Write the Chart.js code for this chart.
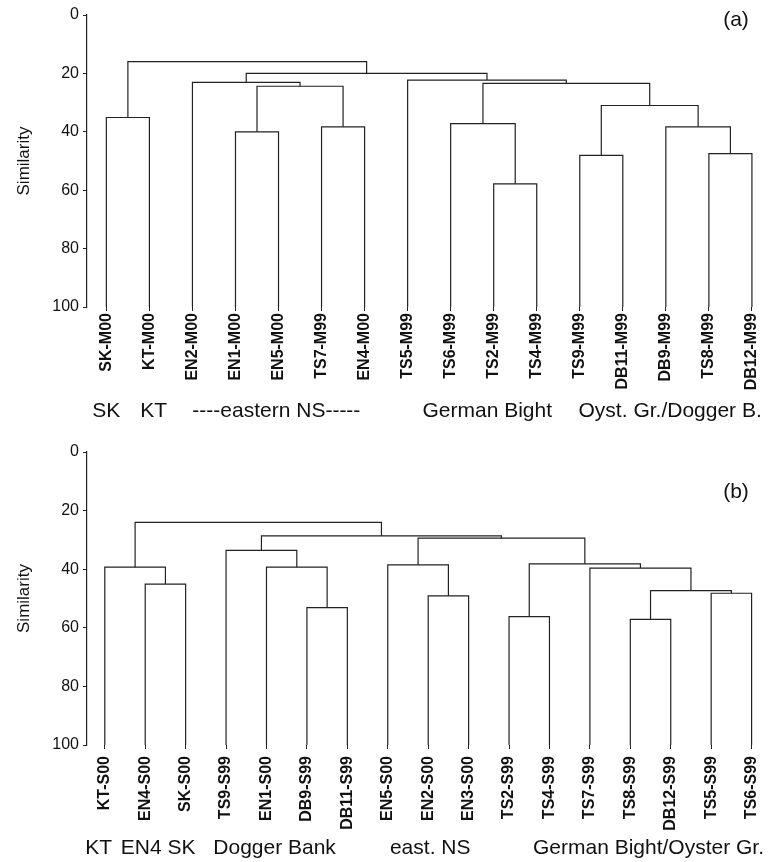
<!DOCTYPE html>
<html>
<head>
<meta charset="utf-8">
<script src="https://cdn.jsdelivr.net/npm/chart.js@4"></script>
<style>
    body { margin: 0; background: #fff; }
    canvas { display: block; }
</style>
</head>
<body>
<canvas id="panelA" width="778" height="431"></canvas>
<canvas id="panelB" width="778" height="431"></canvas>
<script>
// (a) leaves, left to right
const leavesA = ["SK-M00", "KT-M00", "EN2-M00", "EN1-M00", "EN5-M00", "TS7-M99", "EN4-M00", "TS5-M99",
    "TS6-M99", "TS2-M99", "TS4-M99", "TS9-M99", "DB11-M99", "DB9-M99", "TS8-M99", "DB12-M99"];
// merges: [left, right, similarity], index >= leaves.length means an earlier merge
const linkA = [
    [9, 10, 57.8], [14, 15, 47.5], [11, 12, 48.1], [3, 4, 40.0], [5, 6, 38.3],
    [13, 17, 38.3], [8, 16, 37.2], [0, 1, 35.1], [18, 21, 31.0], [19, 20, 24.4],
    [22, 24, 23.4], [2, 25, 23.1], [7, 26, 22.3], [27, 28, 20.0], [23, 29, 16.0],
];
const groupsA = ["SK", "KT", "----eastern NS-----", "German Bight", "Oyst. Gr./Dogger B."];
const groupAtA = [0, 1.1, 3.95, 8.85, 13.1];

// (b)
const leavesB = ["KT-S00", "EN4-S00", "SK-S00", "TS9-S99", "EN1-S00", "DB9-S99", "DB11-S99", "EN5-S00",
    "EN2-S00", "EN3-S00", "TS2-S99", "TS4-S99", "TS7-S99", "TS8-S99", "DB12-S99", "TS5-S99", "TS6-S99"];
const linkB = [
    [13, 14, 57.1], [10, 11, 56.2], [5, 6, 53.1], [8, 9, 49.1], [15, 16, 48.2],
    [17, 21, 47.3], [1, 2, 45.1], [12, 22, 39.6], [0, 23, 39.3], [4, 19, 39.3],
    [7, 20, 38.5], [18, 24, 38.2], [3, 26, 33.6], [27, 28, 29.4], [29, 30, 28.6],
    [25, 31, 24.0],
];
const groupsB = ["KT", "EN4", "SK", "Dogger Bank", "east. NS", "German Bight/Oyster Gr."];
const groupAtB = [-0.15, 0.9, 1.9, 4.2, 8.05, 13.45];

const simTicks = [0, 20, 40, 60, 80, 100];

// turn the merge list into one U-shaped line per merge
function dendroSets(n, links) {
    const pos = [];
    const hgt = [];
    for (let i = 0; i < n; i++) {
        pos.push(i);
        hgt.push(100);
    }
    return links.map(([a, b, h]) => {
        const set = {
            data: [
                { x: pos[a], y: hgt[a] },
                { x: pos[a], y: h },
                { x: pos[b], y: h },
                { x: pos[b], y: hgt[b] },
            ],
            showLine: true,
            borderColor: "#222",
            borderWidth: 1.2,
            pointRadius: 0,
            tension: 0,
            fill: false,
            clip: 6,
        };
        pos.push((pos[a] + pos[b]) / 2);
        hgt.push(h);
        return set;
    });
}

function makePanel(id, leaves, links, groups, groupAt, tag, lay) {
    const notes = {
        id: "notes",
        afterDraw(chart) {
            const ctx = chart.ctx;
            const x = chart.scales.x;
            ctx.save();
            ctx.fillStyle = "#111";
            ctx.textBaseline = "middle";
            ctx.textAlign = "center";
            ctx.font = "21px 'Liberation Sans', Arial, sans-serif";
            groups.forEach((g, i) => ctx.fillText(g, x.getPixelForValue(groupAt[i]), lay.groupY));
            ctx.fillText(tag, 736, lay.tagY);
            ctx.restore();
        },
    };

    new Chart(document.getElementById(id), {
        type: "scatter",
        data: { datasets: dendroSets(leaves.length, links) },
        plugins: [notes],
        options: {
            responsive: false,
            animation: false,
            layout: { padding: { top: lay.top, right: 8, left: 14, bottom: 0 } },
            plugins: { legend: { display: false }, tooltip: { enabled: false } },
            scales: {
                x: {
                    type: "linear",
                    min: lay.min,
                    max: lay.max,
                    afterBuildTicks: (s) => {
                        s.ticks = leaves.map((_, i) => ({ value: i }));
                    },
                    afterFit: (s) => {
                        s.height = lay.axisH;
                    },
                    ticks: {
                        callback: (v) => leaves[v],
                        autoSkip: false,
                        minRotation: 90,
                        maxRotation: 90,
                        padding: lay.labelPad,
                        color: "#111",
                        font: { family: "'Liberation Sans', Arial, sans-serif", size: 16, weight: "bold" },
                    },
                    grid: { drawOnChartArea: false, tickLength: 4, color: "#222" },
                    border: { display: false },
                },
                y: {
                    reverse: true,
                    min: 0,
                    max: 100,
                    afterBuildTicks: (s) => {
                        s.ticks = simTicks.map((v) => ({ value: v }));
                    },
                    afterFit: (s) => {
                        s.width = 73;
                    },
                    ticks: {
                        padding: 4,
                        color: "#111",
                        font: { family: "'Liberation Sans', Arial, sans-serif", size: 16 },
                    },
                    grid: { drawOnChartArea: false, tickLength: 4, color: "#222" },
                    border: { color: "#222", width: 1.2 },
                    title: {
                        display: true,
                        text: "Similarity",
                        color: "#111",
                        padding: 0,
                        font: { family: "'Liberation Sans', Arial, sans-serif", size: 17 },
                    },
                },
            },
        },
    });
}

makePanel("panelA", leavesA, linkA, groupsA, groupAtA, "(a)",
    { top: 15, axisH: 124, min: -0.45, max: 15.42, labelPad: 2, groupY: 411, tagY: 20 });
makePanel("panelB", leavesB, linkB, groupsB, groupAtB, "(b)",
    { top: 21, axisH: 117, min: -0.44, max: 16.44, labelPad: 7, groupY: 417, tagY: 61 });
</script>
</body>
</html>
